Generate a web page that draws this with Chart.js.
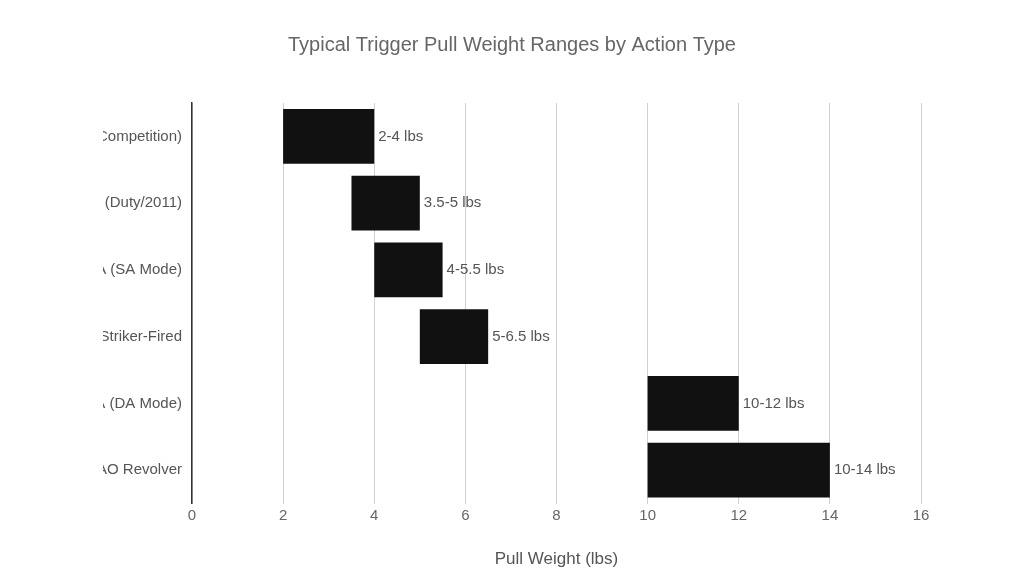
<!DOCTYPE html>
<html><head><meta charset="utf-8">
<script src="https://cdn.jsdelivr.net/npm/chart.js@4"></script>
<style>html,body{margin:0;padding:0;background:#fff}#wrap{width:1024px;height:586px}</style>
</head><body><div id="wrap"><canvas id="c"></canvas></div>
<script>
const categorias = ["SAO (Competition)", "SAO (Duty/2011)", "DA/SA (SA Mode)", "Striker-Fired", "DA/SA (DA Mode)", "DAO Revolver"];
const minimos = [2, 3.5, 4, 5, 10, 10];
const maximos = [4, 5, 5.5, 6.5, 12, 14];
const rotulos = ["2-4 lbs", "3.5-5 lbs", "4-5.5 lbs", "5-6.5 lbs", "10-12 lbs", "10-14 lbs"];

const fonte = "'Liberation Sans', Arial, sans-serif";

const rotuloPlugin = {
    id: "rotulos",
    afterDatasetsDraw(chart) {
        const ctx = chart.ctx;
        const meta = chart.getDatasetMeta(0);
        ctx.save();
        ctx.font = "15px " + fonte;
        ctx.fillStyle = "#555";
        ctx.textBaseline = "middle";
        meta.data.forEach((bar, i) => {
            ctx.fillText(rotulos[i], bar.x + 4, bar.y);
        });
        ctx.restore();
    }
};

new Chart(document.getElementById("c"), {
    type: "bar",
    data: {
        labels: categorias,
        datasets: [{
            data: minimos.map((m, i) => [m, maximos[i]]),
            backgroundColor: "#111111",
            barPercentage: 0.82,
            categoryPercentage: 1
        }]
    },
    options: {
        indexAxis: "y",
        responsive: true,
        maintainAspectRatio: false,
        animation: false,
        layout: { padding: { left: 103, right: 103, top: 25, bottom: 12 } },
        plugins: {
            legend: { display: false },
            tooltip: { enabled: false },
            title: {
                display: true,
                text: "Typical Trigger Pull Weight Ranges by Action Type",
                color: "#666",
                font: { family: fonte, size: 20, weight: "normal" },
                padding: { top: 8, bottom: 46 }
            }
        },
        scales: {
            x: {
                min: 0, max: 16,
                ticks: { stepSize: 2, color: "#666", font: { family: fonte, size: 15 } },
                grid: { color: "#d0d0d0", drawTicks: false },
                border: { display: false },
                title: { display: true, text: "Pull Weight (lbs)", color: "#555", font: { family: fonte, size: 17 }, padding: { top: 22 } }
            },
            y: {
                afterFit(scale) { scale.width = 89; },
                ticks: { color: "#555", font: { family: fonte, size: 15 }, padding: 2 },
                grid: { display: false },
                border: { display: true, color: "#333", width: 1.5 }
            }
        }
    },
    plugins: [rotuloPlugin]
});
</script></body></html>
